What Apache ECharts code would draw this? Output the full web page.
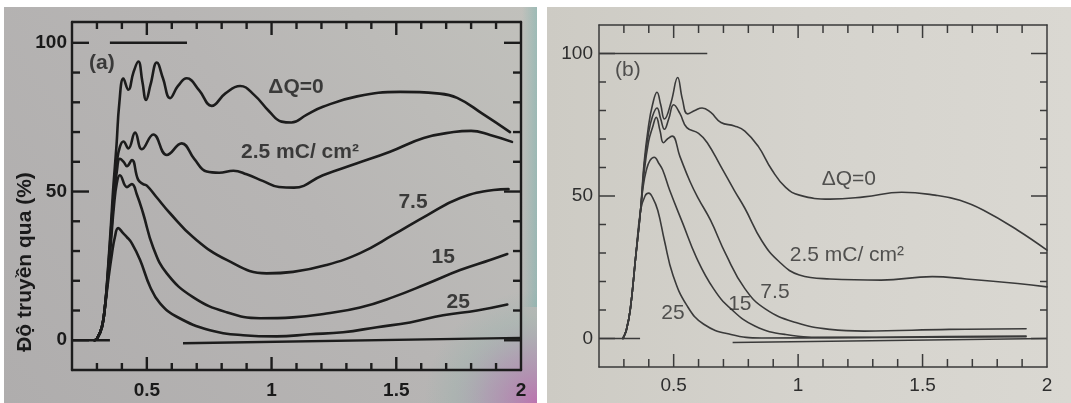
<!DOCTYPE html>
<html>
<head>
<meta charset="utf-8">
<script src="https://cdn.jsdelivr.net/npm/echarts@6/dist/echarts.min.js"></script>
<style>
html,body{margin:0;padding:0;background:#ffffff;}
#chart{width:1071px;height:403px;}
</style>
</head>
<body>
<div id="chart"></div>
<script>
// ---- axis ticks and labels (photon energy in eV, transmission in %) ----
const xMinorTicks = [0.3,0.4,0.6,0.7,0.8,0.9,1.1,1.2,1.3,1.4,1.6,1.7,1.8,1.9];
const xMajorTicks = [0.5,1,1.5];
const xTickLabels = [0.5,1,1.5,2];
const yMinorTicks = [10,20,30,40,60,70,80,90];
const yMajorTicks = [0,50,100];
const yTickLabels = [0,50,100];

// ---- panel (a): transmission curves for each dose ΔQ ----
const panelA_dQ0 = [[0.29,0],[0.30,0.5],[0.32,4.5],[0.333,12],[0.345,25],[0.357,40],[0.366,52],[0.378,65],[0.39,80],[0.406,88],[0.426,84.2],[0.446,90],[0.466,93.7],[0.482,87],[0.497,80.8],[0.515,86],[0.54,93.4],[0.565,88],[0.593,81.4],[0.625,85.5],[0.66,88.1],[0.71,84],[0.76,78.8],[0.815,83],[0.874,85.5],[0.93,82.5],[0.99,77],[1.04,73.5],[1.08,73.2],[1.14,75.8],[1.206,78.5],[1.343,82],[1.515,83.5],[1.663,83],[1.744,81.5],[1.848,76],[1.956,70]];
const panelA_dQ2p5 = [[0.29,0],[0.30,0.5],[0.32,4.5],[0.333,12],[0.345,24],[0.357,38],[0.368,50],[0.38,60],[0.392,65],[0.406,66.8],[0.426,64.5],[0.453,69.8],[0.48,64.2],[0.526,69.2],[0.58,62.3],[0.64,66.2],[0.69,61],[0.74,56.7],[0.79,56.3],[0.847,57],[0.9,55.8],[0.967,53.5],[1.03,51.5],[1.09,51.3],[1.206,55.5],[1.343,59.5],[1.475,63.4],[1.61,68],[1.73,70],[1.80,70.4],[1.876,69],[1.964,66.7]];
const panelA_dQ7p5 = [[0.29,0],[0.30,0.5],[0.32,4.5],[0.333,12],[0.345,23],[0.357,36],[0.368,48],[0.38,57],[0.392,61],[0.407,60],[0.42,58.5],[0.44,60.6],[0.465,54],[0.485,52.5],[0.50,52],[0.54,48],[0.593,42.7],[0.685,34.7],[0.82,27],[0.98,22.5],[1.086,23],[1.22,25.3],[1.355,29.3],[1.487,35.4],[1.623,42],[1.756,47.8],[1.89,50.5],[1.95,50.8]];
const panelA_dQ15 = [[0.29,0],[0.30,0.5],[0.32,4.5],[0.333,12],[0.345,22],[0.357,34],[0.368,45],[0.38,53],[0.392,55.5],[0.42,51.5],[0.44,52.5],[0.46,49],[0.485,42.7],[0.525,31.3],[0.58,22.5],[0.685,14.5],[0.82,9.4],[0.954,7.4],[1.086,7.7],[1.22,9],[1.355,11],[1.487,14.5],[1.623,19],[1.756,23.6],[1.876,27],[1.945,29]];
const panelA_dQ25 = [[0.29,0],[0.30,0.5],[0.32,4.4],[0.332,11],[0.345,20],[0.36,29],[0.372,34.7],[0.385,37.7],[0.405,36],[0.42,34.7],[0.44,32.6],[0.473,27],[0.513,18],[0.553,12.4],[0.62,7.9],[0.753,3.4],[0.886,1.7],[1.02,1.3],[1.154,2],[1.287,2.7],[1.423,4.4],[1.555,6],[1.688,8.4],[1.824,10],[1.945,12]];
// 100 % and 0 % reference segments
const panelA_ref100 = [[0.352,100],[0.661,100]];
const panelA_ref0 = [[0.2,0],[0.352,0]];
const panelA_base = [[0.645,-1],[2.0,0.8]];
const panelA_labels = [[0.32,93.1,'(a)'],[1.098,85,'ΔQ=0'],[1.114,63.2,'2.5 mC/ cm²'],[1.567,46.4,'7.5'],[1.688,27.9,'15'],[1.748,12.8,'25']];

// ---- panel (b) ----
const panelB_dQ0 = [[0.296,0],[0.31,3],[0.326,10.4],[0.347,28.3],[0.367,45],[0.381,61.5],[0.399,74.6],[0.415,82],[0.433,86.4],[0.448,82],[0.463,77],[0.49,83],[0.516,91.6],[0.535,84],[0.556,78.8],[0.585,80],[0.614,80.9],[0.648,79.4],[0.69,75.8],[0.744,74.6],[0.786,72.8],[0.84,67.4],[0.895,59.1],[0.95,53],[1.005,50.3],[1.128,48.9],[1.265,49.7],[1.416,51.3],[1.55,50.3],[1.65,48.5],[1.745,45],[1.882,38],[2.0,31]];
const panelB_dQ2p5 = [[0.296,0],[0.31,3],[0.326,10.4],[0.347,28.3],[0.367,45],[0.381,60],[0.399,72],[0.415,78],[0.433,80.9],[0.448,77],[0.463,73.4],[0.48,77],[0.50,82],[0.525,79],[0.553,74],[0.6,72],[0.635,68.7],[0.69,60.3],[0.744,51.9],[0.786,45.7],[0.854,34.3],[0.922,27.1],[1.005,22.3],[1.128,20.9],[1.334,20.5],[1.539,21.7],[1.676,20.9],[1.882,19.3],[2.0,18.1]];
const panelB_dQ7p5 = [[0.296,0],[0.31,3],[0.326,10.4],[0.347,28.3],[0.367,45],[0.381,58],[0.399,69],[0.415,74],[0.43,77.6],[0.445,73],[0.459,68.7],[0.475,70],[0.494,71],[0.525,63.9],[0.566,55],[0.6,49],[0.648,41.5],[0.71,29.5],[0.786,17.5],[0.868,10.4],[0.991,5.6],[1.128,3.2],[1.265,2.6],[1.608,3.2],[1.916,3.4]];
const panelB_dQ15 = [[0.296,0],[0.31,3],[0.326,10.4],[0.347,28.3],[0.367,45],[0.377,53],[0.39,59],[0.405,62.5],[0.422,63.6],[0.44,61.5],[0.456,59.1],[0.484,52],[0.537,40.3],[0.592,28.3],[0.66,17.5],[0.73,10.4],[0.826,4.4],[0.95,1.4],[1.128,0.4],[1.5,0.6],[1.916,0.9]];
const panelB_dQ25 = [[0.296,0],[0.31,3],[0.326,10.4],[0.347,28.3],[0.367,45],[0.385,50],[0.40,51],[0.415,49.5],[0.436,45],[0.463,34.3],[0.497,22.3],[0.553,11.6],[0.621,5],[0.73,1.4],[0.854,0.2],[1.2,0.3],[1.916,0.6]];
const panelB_ref100 = [[0.2,100],[0.635,100]];
const panelB_ref0 = [[0.2,0],[0.365,0]];
const panelB_base = [[0.737,-1.4],[2.0,0]];
const panelB_labels = [[0.316,94.2,'(b)'],[1.204,56,'ΔQ=0'],[1.196,29.3,'2.5 mC/ cm²'],[0.907,16.3,'7.5'],[0.766,12.1,'15'],[0.497,8.9,'25']];

const W = 1071, H = 403;
const FONT = "'Liberation Sans', Arial, sans-serif";
const Y_MIN = -10, X_MIN = 0.2, X_MAX = 2.0;
const grids = [
  {left:72, right:550, top:22, bottom:33},
  {left:599, right:24, top:25, bottom:36}
];
const styleA = {color:'#1c1c1c', frame:2.4, curve:2.6, xMinor:7, xMajor:13, yMinor:8, yMajor:17,
                text:'#1a1a1a', weight:'bold', tickSize:19, labelSize:21, xMargin:11, yMargin:5, yMax:107};
const styleB = {color:'#3a3a3a', frame:1.5, curve:1.6, xMinor:8, xMajor:13, yMinor:7, yMajor:16,
                text:'#2e2e2e', weight:'normal', tickSize:19, labelSize:21, xMargin:9, yMargin:6, yMax:110};

function xAxes(grid, st) {
  const line = {show:true, onZero:false, lineStyle:{color:st.color, width:st.frame}};
  const c = {type:'value', gridIndex:grid, min:X_MIN, max:X_MAX, splitLine:{show:false}, axisTick:{show:false}, axisLine:line};
  return [
    {...c, position:'bottom',
     axisLabel:{show:true, customValues:xTickLabels, margin:st.xMargin, color:st.text, fontFamily:FONT,
                fontSize:st.tickSize, fontWeight:st.weight}},
    {...c, position:'top', axisLabel:{show:false}}
  ];
}
function yAxes(grid, st) {
  const line = {show:true, onZero:false, lineStyle:{color:st.color, width:st.frame}};
  const c = {type:'value', gridIndex:grid, min:Y_MIN, max:st.yMax, splitLine:{show:false}, axisTick:{show:false}, axisLine:line};
  return [
    {...c, position:'left',
     axisLabel:{show:true, customValues:yTickLabels, margin:st.yMargin, color:st.text, fontFamily:FONT,
                fontSize:st.tickSize, fontWeight:st.weight}},
    {...c, position:'right', axisLabel:{show:false}}
  ];
}
// inward tick marks on all four sides, drawn as thin filled bars;
// positions come from the grid box and the axis ranges
function tickShapes(grid, st) {
  const g = grids[grid];
  const x0 = g.left, x1 = W - g.right, y0 = g.top, y1 = H - g.bottom;
  const px = v => x0 + (v - X_MIN) / (X_MAX - X_MIN) * (x1 - x0);
  const py = v => y1 - (v - Y_MIN) / (st.yMax - Y_MIN) * (y1 - y0);
  const w = st.frame;
  const s = {fill:st.color};
  const out = [];
  const addX = (vals, len) => vals.forEach(v => {
    const x = px(v) - w / 2;
    out.push({type:'rect', z:50, shape:{x:x, y:y1 - len, width:w, height:len}, style:s});
    out.push({type:'rect', z:50, shape:{x:x, y:y0, width:w, height:len}, style:s});
  });
  const addY = (vals, len) => vals.forEach(v => {
    const y = py(v) - w / 2;
    out.push({type:'rect', z:50, shape:{x:x0, y:y, width:len, height:w}, style:s});
    out.push({type:'rect', z:50, shape:{x:x1 - len, y:y, width:len, height:w}, style:s});
  });
  addX(xMinorTicks, st.xMinor); addX(xMajorTicks, st.xMajor);
  addY(yMinorTicks, st.yMinor); addY(yMajorTicks, st.yMajor);
  return out;
}
function curve(grid, data, st) {
  return {type:'line', xAxisIndex:grid*2, yAxisIndex:grid*2, data:data, showSymbol:false, symbol:'none',
          smooth:0.45, silent:true, z:3,
          lineStyle:{color:st.color, width:st.curve, cap:'round', join:'round'}};
}
function segment(grid, data, st) {
  return {type:'line', xAxisIndex:grid*2, yAxisIndex:grid*2, data:data, showSymbol:false, symbol:'none',
          silent:true, z:3, lineStyle:{color:st.color, width:st.frame}};
}
function annotations(grid, data, st) {
  return {type:'scatter', xAxisIndex:grid*2, yAxisIndex:grid*2, data:data, symbolSize:0, silent:true, z:5,
          label:{show:true, position:'inside', formatter:p => p.data[2], color:st.text, fontFamily:FONT,
                 fontSize:st.labelSize, fontWeight:st.weight}};
}

const chart = echarts.init(document.getElementById('chart'), null, {renderer:'canvas'});
chart.setOption({
  animation:false,
  backgroundColor:'#ffffff',
  graphic:[
    {type:'rect', z:-100, shape:{x:4, y:7, width:533, height:396},
     style:{fill:new echarts.graphic.LinearGradient(0,1,1,0,[{offset:0,color:'#afadad'},{offset:0.55,color:'#b7b5b4'},{offset:1,color:'#c1c1bc'}])}},
    {type:'rect', z:-99, shape:{x:420, y:290, width:117, height:113},
     style:{fill:new echarts.graphic.RadialGradient(1,1,1,[{offset:0,color:'rgba(190,60,170,0.55)'},{offset:0.45,color:'rgba(150,110,170,0.3)'},{offset:0.75,color:'rgba(110,170,160,0.15)'},{offset:1,color:'rgba(110,170,160,0)'}])}},
    {type:'rect', z:-99, shape:{x:522, y:7, width:15, height:300},
     style:{fill:new echarts.graphic.LinearGradient(0,0,1,0,[{offset:0,color:'rgba(90,175,170,0)'},{offset:1,color:'rgba(90,175,170,0.35)'}])}},
    {type:'rect', z:-100, shape:{x:547, y:7, width:524, height:396},
     style:{fill:new echarts.graphic.LinearGradient(0,0,1,0,[{offset:0,color:'#cdcbc4'},{offset:0.5,color:'#d5d3cd'},{offset:1,color:'#dad8d2'}])}},
    {type:'text', z:5, x:25, y:262, rotation:Math.PI/2,
     style:{text:'Độ truyền qua (%)', font:"bold 21px 'Liberation Sans', Arial, sans-serif", fill:'#1a1a1a',
            textAlign:'center', textVerticalAlign:'middle'}},
    ...tickShapes(0, styleA),
    ...tickShapes(1, styleB)
  ],
  grid:grids,
  xAxis:[...xAxes(0, styleA), ...xAxes(1, styleB)],
  yAxis:[...yAxes(0, styleA), ...yAxes(1, styleB)],
  series:[
    curve(0, panelA_dQ0, styleA),
    curve(0, panelA_dQ2p5, styleA),
    curve(0, panelA_dQ7p5, styleA),
    curve(0, panelA_dQ15, styleA),
    curve(0, panelA_dQ25, styleA),
    segment(0, panelA_ref100, styleA),
    segment(0, panelA_ref0, styleA),
    segment(0, panelA_base, styleA),
    annotations(0, panelA_labels, styleA),
    curve(1, panelB_dQ0, styleB),
    curve(1, panelB_dQ2p5, styleB),
    curve(1, panelB_dQ7p5, styleB),
    curve(1, panelB_dQ15, styleB),
    curve(1, panelB_dQ25, styleB),
    segment(1, panelB_ref100, styleB),
    segment(1, panelB_ref0, styleB),
    segment(1, panelB_base, styleB),
    annotations(1, panelB_labels, styleB)
  ]
});
</script>
</body>
</html>
